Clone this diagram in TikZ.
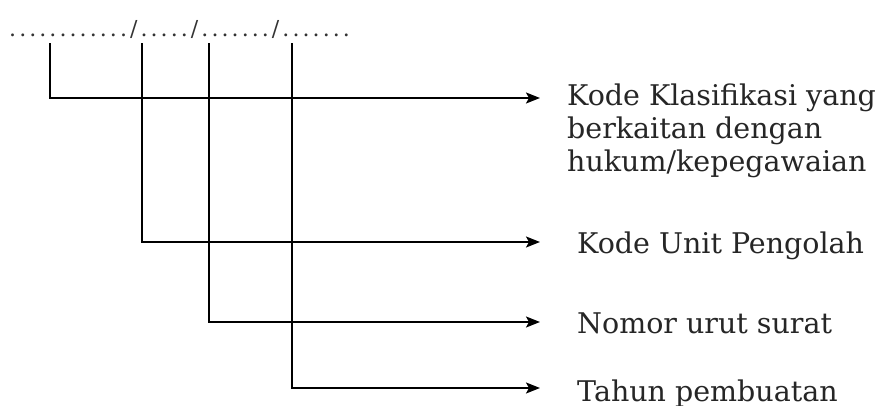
\documentclass[tikz,border=0pt]{standalone}
\usepackage{fontspec}
\setmainfont{DejaVu Serif}
\newfontfamily\dotfont[LetterSpace=14]{DejaVu Serif}
\usetikzlibrary{arrows.meta}
\begin{document}
\begin{tikzpicture}[x=1pt,y=-1pt,
  conn/.style={line width=1.7pt, draw=black},
  arr/.style={conn,-{Stealth[length=14pt,width=11pt,inset=3pt]}},
  lbl/.style={anchor=base west, inner sep=0pt, font=\fontsize{28.5}{33}\selectfont, align=left, text=black!85}]
\useasboundingbox[fill=white] (0,0) rectangle (878,405);
\node[anchor=base west, inner sep=0pt, font=\dotfont\fontsize{22}{24}\selectfont, text=black!80] (top) at (9,36) {............/...../......./.......};
\coordinate (s1) at (50,43);
\coordinate (s2) at (142,43);
\coordinate (s3) at (209,43);
\coordinate (s4) at (292,43);
\coordinate (e1) at (540,98);
\coordinate (e2) at (540,242);
\coordinate (e3) at (540,322);
\coordinate (e4) at (540,388);
\node[lbl] (k1) at (567,171) {Kode Klasifikasi yang\\berkaitan dengan\\hukum/kepegawaian};
\node[lbl] (k2) at (577,253) {Kode Unit Pengolah};
\node[lbl] (k3) at (577,333) {Nomor urut surat};
\node[lbl] (k4) at (577,401) {Tahun pembuatan};
\draw[arr, line width=2.1pt] (s1) |- (e1);
\draw[arr] (s2) |- (e2);
\draw[arr] (s3) |- (e3);
\draw[arr] (s4) |- (e4);
\end{tikzpicture}
\end{document}
